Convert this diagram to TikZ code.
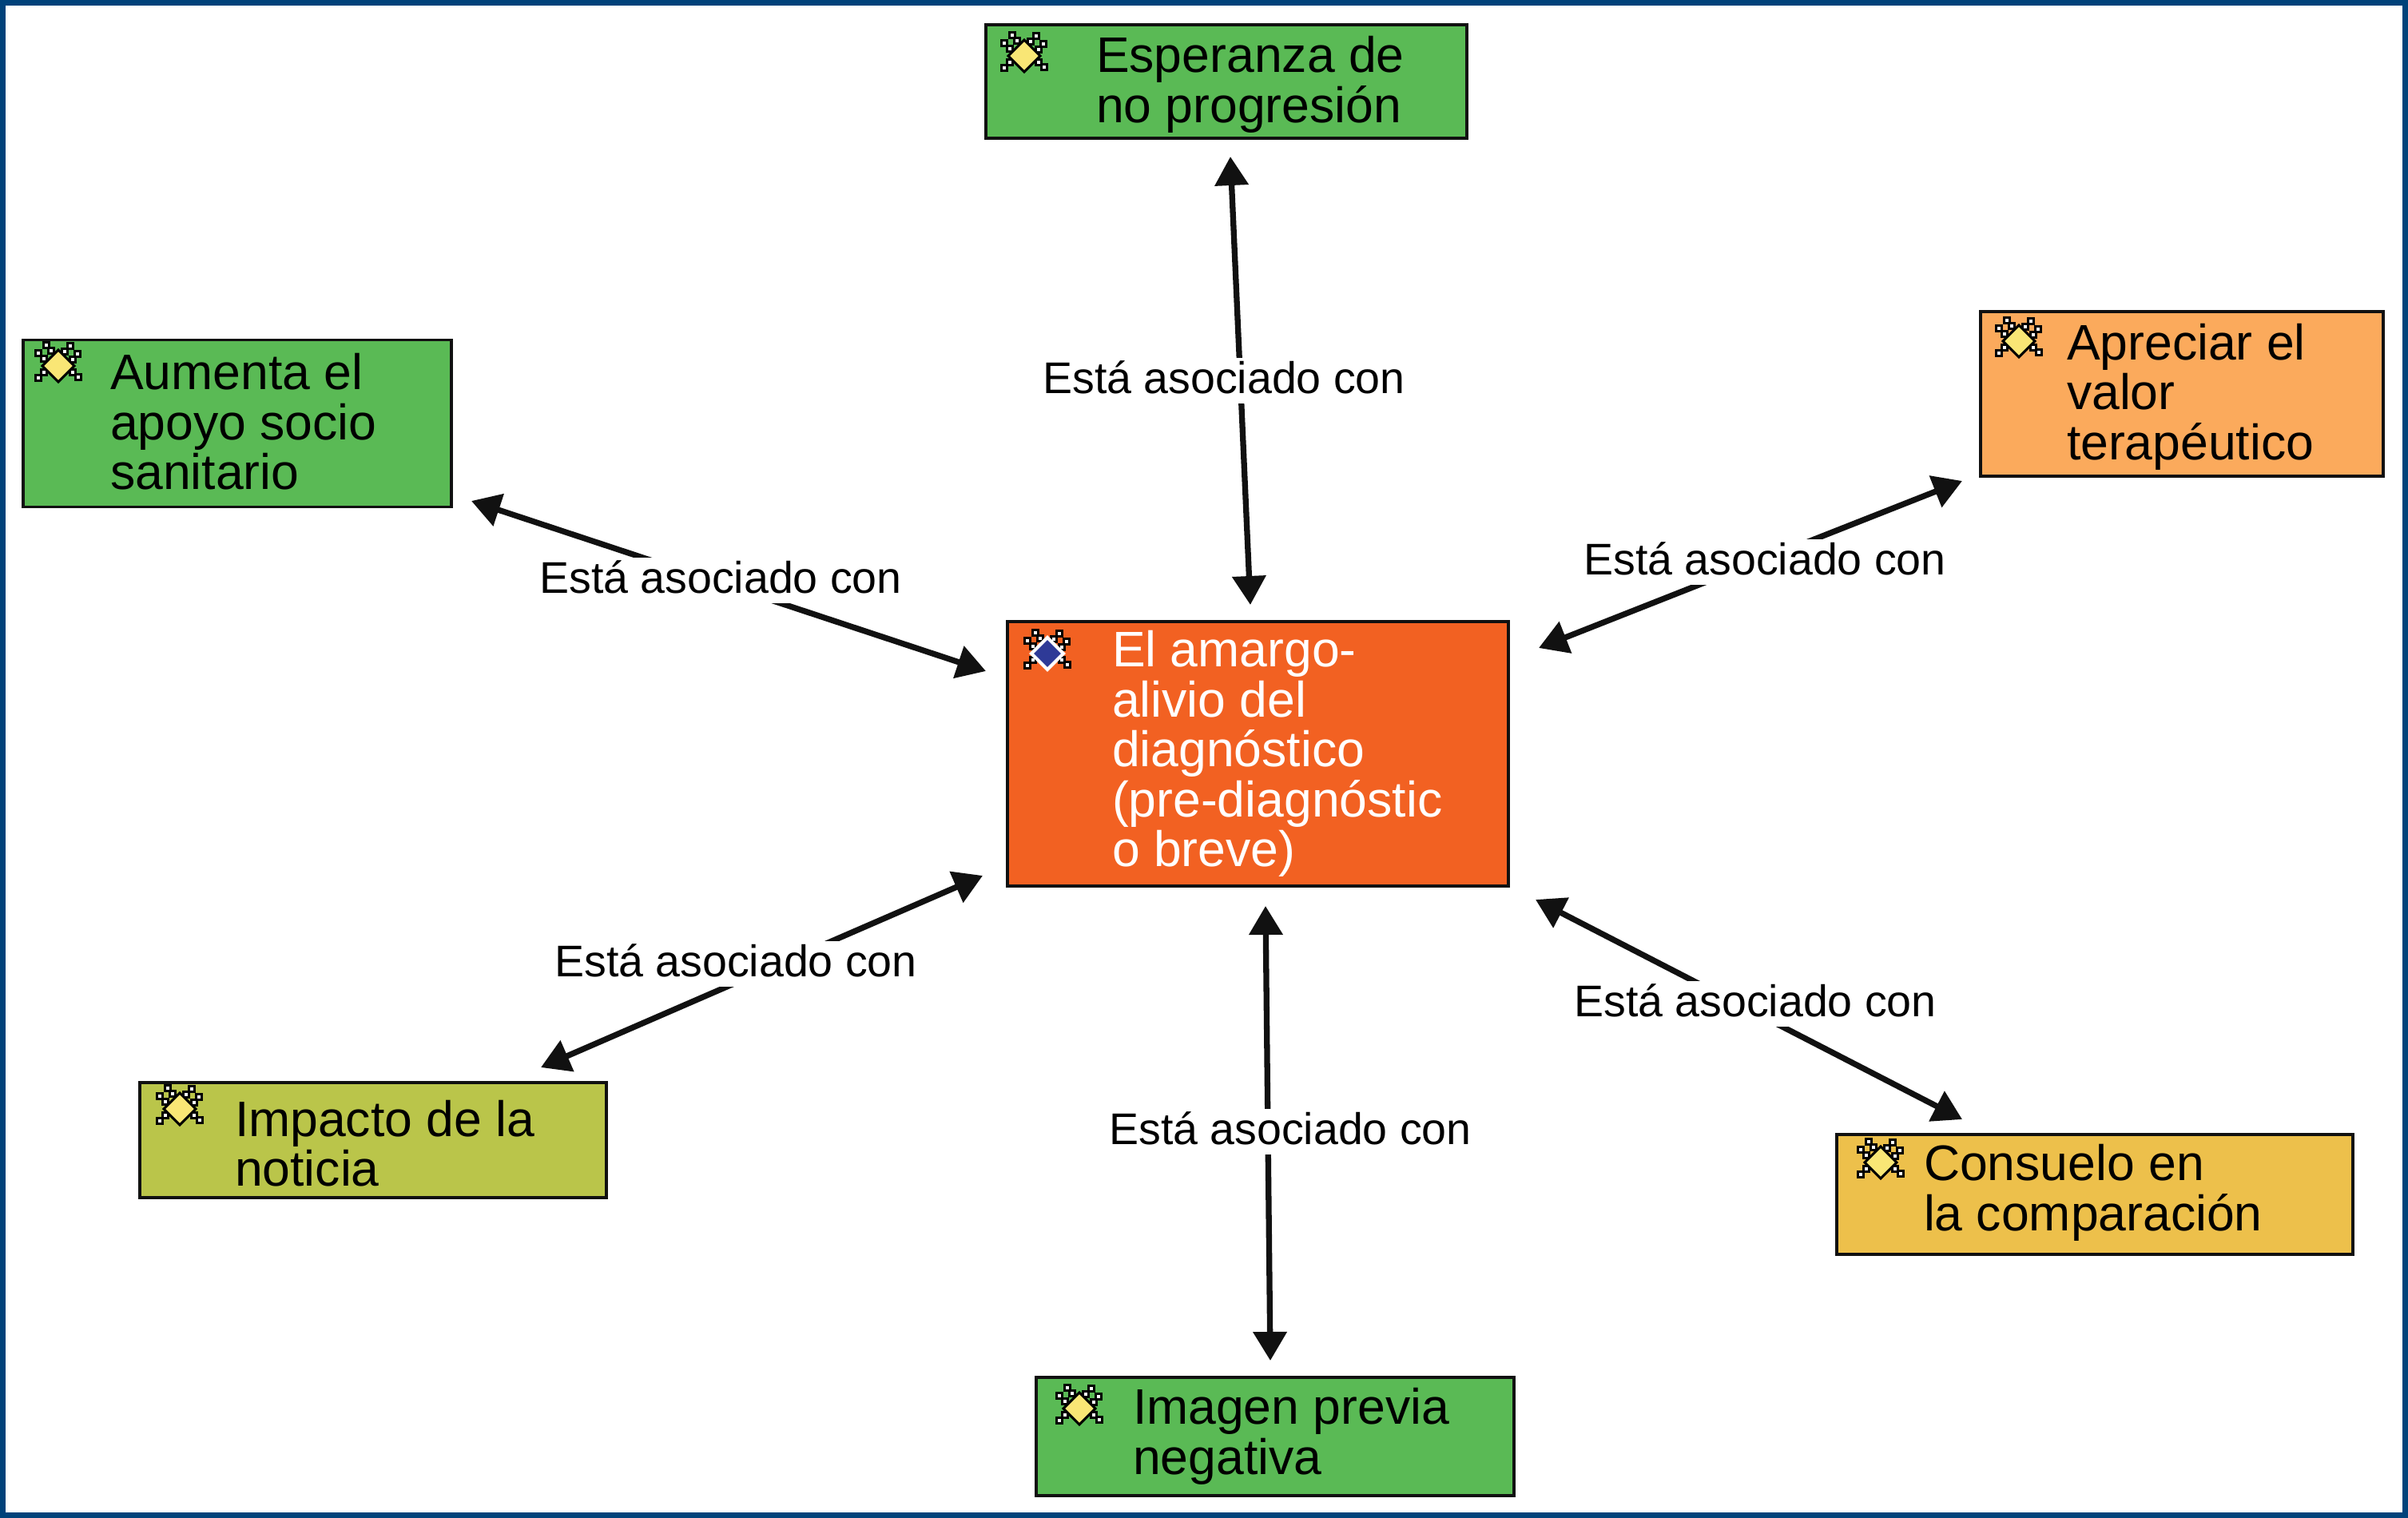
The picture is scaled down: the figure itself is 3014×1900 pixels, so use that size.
\documentclass[tikz,border=0pt]{standalone}
\usepackage{fontspec}
\setmainfont{Liberation Sans}
\usetikzlibrary{arrows.meta}
\definecolor{frameblue}{HTML}{00427A}
\definecolor{boxgreen}{HTML}{5ABA55}
\definecolor{boxred}{HTML}{F26122}
\definecolor{boxpeach}{HTML}{FBAA5C}
\definecolor{boxolive}{HTML}{BAC54A}
\definecolor{boxgold}{HTML}{EDC04B}
\definecolor{iconyellow}{HTML}{F9E675}
\definecolor{iconblue}{HTML}{2E3A97}
\definecolor{ink}{HTML}{111111}
% width, left pad, downward shift, lines
\newcommand{\boxbody}[4]{\makebox[#1pt][l]{\hspace*{#2pt}\smash{\raisebox{\dimexpr-#3pt-2.5pt\relax}{\parbox[c]{500pt}{\fontsize{62.5}{62.5}\selectfont\raggedright #4}}}}}
\newcommand{\handle}[4]{%
  \draw[line width=3pt,black] (#1,#2) -- (#3,#4);
  \draw[line width=2.6pt,black,fill=white] ({#1-3.3},{#2-3.3}) rectangle ({#1+3.3},{#2+3.3});
  \draw[line width=2.6pt,black,fill=white] ({#3-3.3},{#4-3.3}) rectangle ({#3+3.3},{#4+3.3});}
\tikzset{
  x=1pt,y=-1pt,
  concept/.style={draw=ink,line width=3.5pt,inner sep=0pt,anchor=center,text=black},
  link/.style={draw=ink,line width=7.3pt,{Triangle[length=36pt,width=41pt]}-{Triangle[length=36pt,width=41pt]}},
  linklabel/.style={fill=white,inner xsep=3pt,inner ysep=0pt,text height=44pt,text depth=13pt,font=\fontsize{55.5}{60}\selectfont,text=black},
  iconmark/.pic={
    \handle{-9}{-19}{-15}{-26}
    \handle{8}{-18}{15}{-25}
    \handle{-18}{-9}{-25}{-16}
    \handle{18}{-8}{24}{-15}
    \handle{-18}{8}{-25}{15}
    \handle{18}{8}{25}{14}
  }
}
\begin{document}
\begin{tikzpicture}
\useasboundingbox (0,0) rectangle (3014,1900);
\fill[white] (0,0) rectangle (3014,1900);
\draw[frameblue,line width=7pt] (3.5,3.5) rectangle (3010.5,1896.5);

\node[concept,fill=boxgreen,minimum width=602pt,minimum height=142pt] (esp) at (1535,102) {\boxbody{602}{138}{4}{Esperanza de\\no progresión}};
\node[concept,fill=boxgreen,minimum width=536pt,minimum height=209pt] (aum) at (297,530) {\boxbody{536}{109}{-2}{Aumenta el\\apoyo socio\\sanitario}};
\node[concept,fill=boxpeach,minimum width=504pt,minimum height=206pt] (apr) at (2731,493) {\boxbody{504}{108}{3.5}{Apreciar el\\valor\\terapéutico}};
\node[concept,fill=boxred,minimum width=627pt,minimum height=331pt] (cen) at (1574.5,943.5) {\boxbody{627}{131}{0}{\color{white}El amargo-\\alivio del\\diagnóstico\\(pre-diagnóstic\\o breve)}};
\node[concept,fill=boxolive,minimum width=584pt,minimum height=144pt] (imp) at (467,1427) {\boxbody{584}{119}{4}{Impacto de la\\noticia}};
\node[concept,fill=boxgold,minimum width=646pt,minimum height=150pt] (con) at (2622,1495) {\boxbody{646}{109}{-2}{Consuelo en\\la comparación}};
\node[concept,fill=boxgreen,minimum width=598pt,minimum height=148pt] (ima) at (1596,1798) {\boxbody{598}{121}{0}{Imagen previa\\negativa}};

\foreach \px/\py/\fillc in {1282/70/iconyellow,73/458/iconyellow,2527/427/iconyellow,225/1388/iconyellow,2354/1455/iconyellow,1351/1763/iconyellow}{
  \pic at (\px,\py) {iconmark};
  \draw[black,line width=3pt,fill=\fillc,line join=miter] (\px,\py-20) -- (\px+20,\py) -- (\px,\py+20) -- (\px-20,\py) -- cycle;
}
\pic at (1311,818) {iconmark};
\draw[white,line width=4pt,fill=iconblue] (1311,818-20) -- (1311+20,818) -- (1311,818+20) -- (1311-20,818) -- cycle;

\coordinate (e1) at (1540,196);
\coordinate (e2) at (1565,757);
\coordinate (a1) at (590,627);
\coordinate (a2) at (1234,840);
\coordinate (p1) at (2456,602);
\coordinate (p2) at (1926,811);
\coordinate (i1) at (677,1336);
\coordinate (i2) at (1230,1096);
\coordinate (c1) at (2456,1401);
\coordinate (c2) at (1922,1126);
\coordinate (g1) at (1584,1134);
\coordinate (g2) at (1590,1703);

\draw[link] (e1) -- (e2);
\draw[link] (a1) -- (a2);
\draw[link] (p1) -- (p2);
\draw[link] (i1) -- (i2);
\draw[link] (c1) -- (c2);
\draw[link] (g1) -- (g2);

\node[linklabel] (le) at (1532,476.5) {Está asociado con};
\node[linklabel] (la) at (902,726.5) {Está asociado con};
\node[linklabel] (lp) at (2209,703.5) {Está asociado con};
\node[linklabel] (li) at (921,1206.5) {Está asociado con};
\node[linklabel] (lc) at (2197,1256.5) {Está asociado con};
\node[linklabel] (lg) at (1615,1416.5) {Está asociado con};
\end{tikzpicture}
\end{document}
